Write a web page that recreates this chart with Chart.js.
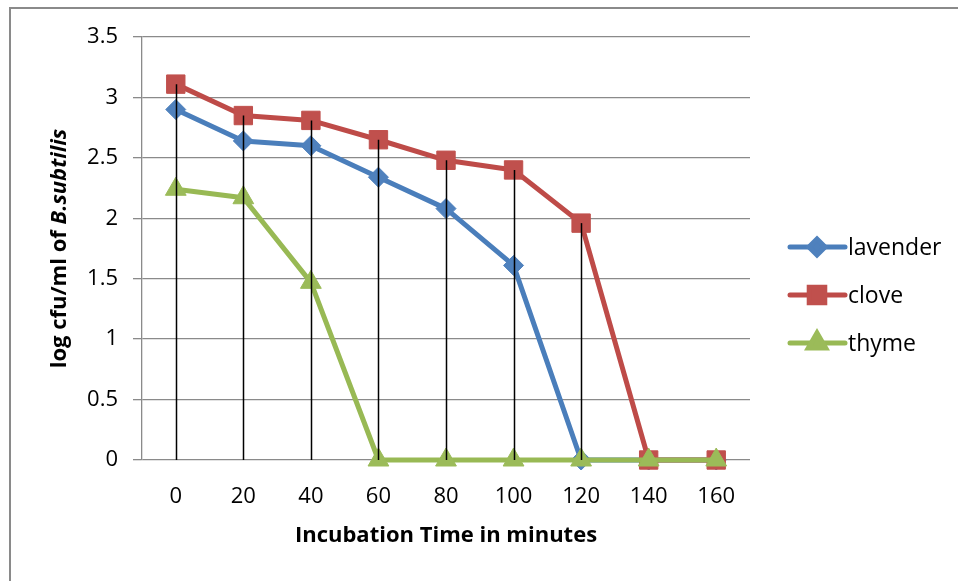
<!DOCTYPE html>
<html lang="en">
<head>
<meta charset="UTF-8" />
<script src="https://cdn.jsdelivr.net/npm/chart.js@4.4.1/dist/chart.umd.min.js"></script>
<title>B.subtilis</title>
<style>
  body { margin: 0; background: #fff; }
  #wrap { width: 958px; height: 581px; }
</style>
</head>
<body>
<div id="wrap"><canvas id="chart"></canvas></div>
<script>
const times = ["0", "20", "40", "60", "80", "100", "120", "140", "160"];
const lavender = [2.9, 2.64, 2.6, 2.34, 2.08, 1.61, 0, 0, 0];
const clove = [3.11, 2.85, 2.81, 2.65, 2.48, 2.4, 1.96, 0, 0];
const thyme = [2.24, 2.17, 1.47, 0, 0, 0, 0, 0, 0];

const font = '"Open Sans", Lato, sans-serif';
const gray = "#8a8a8a";

// chart frame, only top/left visible like the cropped original
const frame = {
  id: "frame",
  beforeDraw(chart) {
    const ctx = chart.ctx;
    ctx.save();
    ctx.strokeStyle = gray;
    ctx.lineWidth = 2;
    ctx.strokeRect(10, 8, 1200, 1200);
    ctx.restore();
  }
};

// black drop lines from the highest series value down to 0
const dropLines = {
  id: "dropLines",
  afterDatasetsDraw(chart) {
    const ctx = chart.ctx;
    const x = chart.scales.x, y = chart.scales.y;
    ctx.save();
    ctx.strokeStyle = "#000";
    ctx.lineWidth = 1.5;
    times.forEach((t, i) => {
      const top = Math.max(...chart.data.datasets.map(d => d.data[i]));
      if (top <= 0) return;
      const px = Math.round(x.getPixelForValue(i)) + 0.5;
      ctx.beginPath();
      ctx.moveTo(px, y.getPixelForValue(top));
      ctx.lineTo(px, y.getPixelForValue(0));
      ctx.stroke();
    });
    ctx.restore();
  }
};

// y title has a bold part and a bold italic part
const yTitle = {
  id: "yTitle",
  afterDraw(chart) {
    const ctx = chart.ctx;
    const a = chart.chartArea;
    const p1 = "log cfu/ml of ", p2 = "B.subtilis";
    const f1 = "bold 22px " + font, f2 = "italic bold 22px " + font;
    ctx.save();
    ctx.font = f1;
    const w1 = ctx.measureText(p1).width;
    ctx.font = f2;
    const w2 = ctx.measureText(p2).width;
    ctx.translate(60, (a.top + a.bottom) / 2);
    ctx.rotate(-Math.PI / 2);
    ctx.fillStyle = "#000";
    ctx.textBaseline = "middle";
    ctx.textAlign = "left";
    ctx.font = f1;
    ctx.fillText(p1, -(w1 + w2) / 2, 0);
    ctx.font = f2;
    ctx.fillText(p2, -(w1 + w2) / 2 + w1, 0);
    ctx.restore();
  }
};

// legend with line + marker like Excel
const sideLegend = {
  id: "sideLegend",
  afterDraw(chart) {
    const ctx = chart.ctx;
    const a = chart.chartArea;
    const sizes = [8, 11, 10];
    ctx.save();
    chart.data.datasets.forEach((d, i) => {
      const y = 247 + i * 48;
      const x0 = a.right + 40;
      ctx.strokeStyle = d.borderColor;
      ctx.lineWidth = 5;
      ctx.lineCap = "round";
      ctx.beginPath();
      ctx.moveTo(x0, y);
      ctx.lineTo(x0 + 55, y);
      ctx.stroke();
      ctx.fillStyle = d.pointBackgroundColor;
      ctx.strokeStyle = d.pointBackgroundColor;
      Chart.helpers.drawPoint(ctx, {pointStyle: d.pointStyle, radius: sizes[i], borderWidth: 1, rotation: 0}, x0 + 27, y);
      ctx.fillStyle = "#000";
      ctx.font = "23px " + font;
      ctx.textBaseline = "middle";
      ctx.fillText(d.label, x0 + 58, y + 1);
    });
    ctx.restore();
  }
};

function series(label, data, line, fill, style, r, order) {
  return {
    label: label,
    data: data,
    borderColor: line,
    borderWidth: 5,
    borderJoinStyle: "round",
    borderCapStyle: "round",
    pointStyle: style,
    pointRadius: r,
    pointHoverRadius: r,
    pointBackgroundColor: fill,
    pointBorderColor: fill,
    pointBorderWidth: 1,
    tension: 0,
    clip: false,
    order: order
  };
}

new Chart(document.getElementById("chart"), {
  type: "line",
  data: {
    labels: times,
    datasets: [
      series("lavender", lavender, "#4A7EBB", "#4F81BD", "rectRot", 10, 3),
      series("clove", clove, "#BE4B48", "#C0504D", "rect", 13, 2),
      series("thyme", thyme, "#98B954", "#9BBB59", "triangle", 12, 1)
    ]
  },
  options: {
    responsive: true,
    maintainAspectRatio: false,
    animation: false,
    layout: { padding: { left: 0, top: 37, right: 208, bottom: 0 } },
    plugins: { legend: { display: false }, tooltip: { enabled: false } },
    scales: {
      x: {
        offset: true,
        grid: { display: false },
        border: { display: false },
        ticks: { color: "#000", font: { family: font, size: 22 }, padding: 16 },
        title: {
          display: true,
          text: "Incubation Time in minutes",
          color: "#000",
          font: { family: font, size: 22, weight: "bold" },
          padding: { top: 0, bottom: 32 }
        },
        afterFit: s => { s.height = 121; }
      },
      y: {
        min: 0,
        max: 3.5,
        ticks: {
          stepSize: 0.5,
          color: "#000",
          font: { family: font, size: 22 },
          padding: 15,
          callback: v => String(Number(v))
        },
        grid: { color: gray, lineWidth: 1.3, tickLength: 9 },
        border: { color: gray, width: 1.3 },
        afterFit: s => { s.width = 142; }
      }
    }
  },
  plugins: [frame, dropLines, yTitle, sideLegend]
});
</script>
</body>
</html>
